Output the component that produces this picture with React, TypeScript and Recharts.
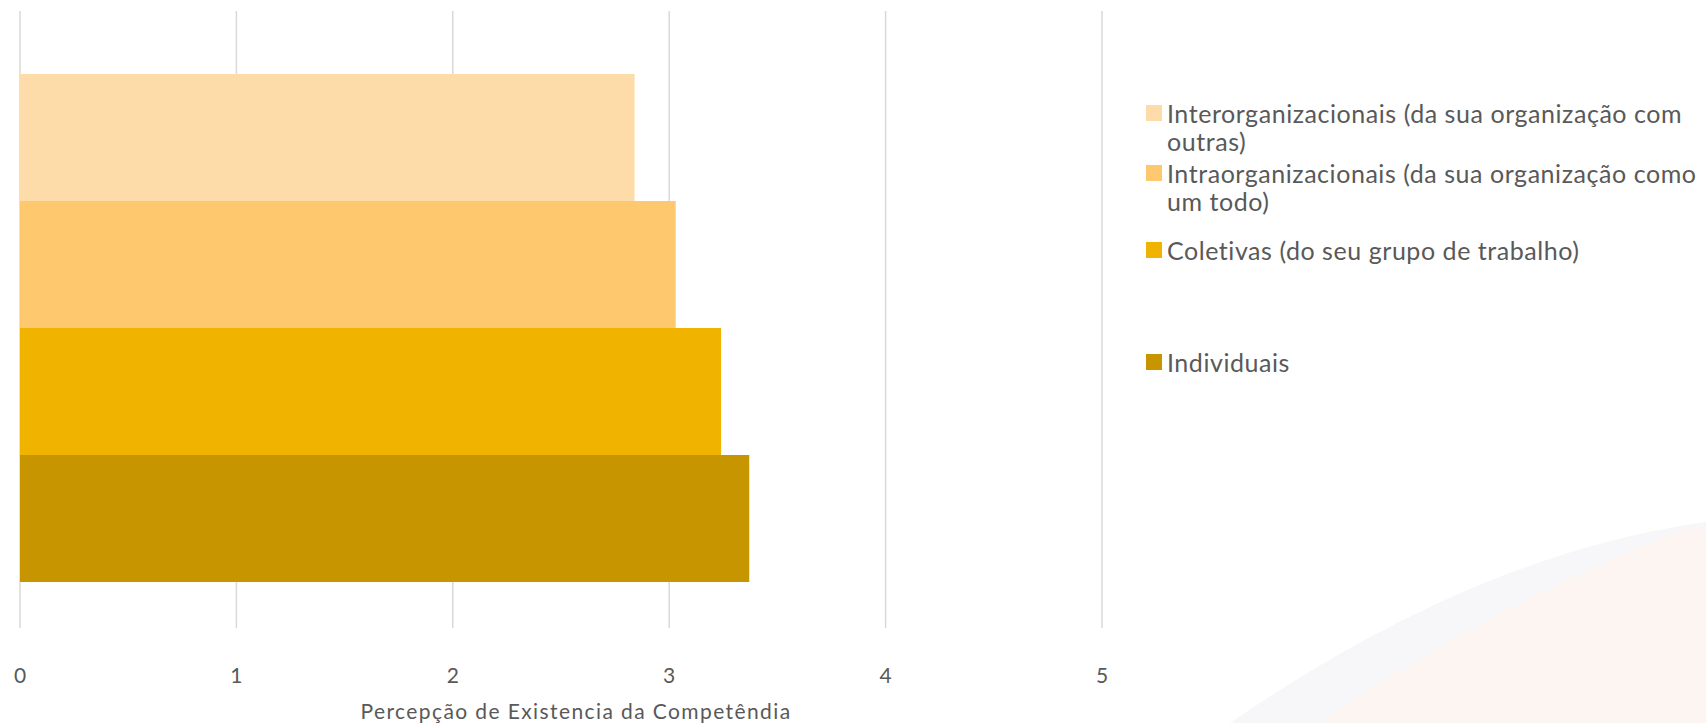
import React from 'react';
import { BarChart, Bar, XAxis, YAxis, CartesianGrid, Legend } from 'recharts';

const categories = ['Competência'];
const seriesKeys = ['inter', 'intra', 'colet', 'indiv'];
const seriesNames = [
  'Interorganizacionais (da sua organização com outras)',
  'Intraorganizacionais (da sua organização como um todo)',
  'Coletivas (do seu grupo de trabalho)',
  'Individuais',
];
const legendLines = [
  ['Interorganizacionais (da sua organização com', 'outras)'],
  ['Intraorganizacionais (da sua organização como', 'um todo)'],
  ['Coletivas (do seu grupo de trabalho)'],
  ['Individuais'],
];
const interValues = [2.84];
const intraValues = [3.03];
const coletValues = [3.24];
const indivValues = [3.37];
const xTicks = [0, 1, 2, 3, 4, 5];
const axisTitle = 'Percepção de Existencia da Competêndia';

const colors = ['#FEDCAA', '#FDC86E', '#F0B300', '#C79500'];
const legendCenters = [113, 173, 250, 362];
const FONT = 'Lato, "Open Sans", sans-serif';
const TEXT = '#595959';

const data = categories.map((c, i) => ({
  name: c,
  inter: interValues[i],
  intra: intraValues[i],
  colet: coletValues[i],
  indiv: indivValues[i],
}));

const LegendContent = () => (
  <div style={{ position: 'relative', width: 0, height: 0 }}>
    {seriesKeys.map((k, i) => (
      <div
        key={k}
        style={{
          position: 'absolute',
          left: 1146,
          top: legendCenters[i] - 14,
          width: 560,
          display: 'flex',
          alignItems: 'flex-start',
          fontFamily: FONT,
          fontSize: 25,
          lineHeight: '28px',
          color: TEXT,
          letterSpacing: 0.55,
          whiteSpace: 'nowrap',
        }}
      >
        <span
          style={{
            display: 'inline-block',
            width: 16,
            height: 16,
            marginTop: 6,
            marginRight: 5,
            background: colors[i],
            flex: '0 0 auto',
          }}
        />
        <span>
          {legendLines[i].map((l, j) => (
            <div key={j}>{l}</div>
          ))}
        </span>
      </div>
    ))}
  </div>
);

export default function App() {
  return (
    <div style={{ position: 'relative', width: 1706, height: 723, background: '#ffffff', overflow: 'hidden' }}>
      <style>{'body{margin:0;background:#fff;}'}</style>
      <svg width={1706} height={723} style={{ position: 'absolute', left: 0, top: 0 }}>
        <path d="M1230,723 C1380,620 1540,545 1706,522 L1706,723 Z" fill="#f7f6f9" />
        <path d="M1320,723 C1440,640 1575,570 1690,528 L1706,530 L1706,723 Z" fill="#fdf5f2" />
      </svg>
      <div style={{ position: 'absolute', left: 0, top: 0 }}>
        <BarChart
          width={1706}
          height={723}
          data={data}
          layout="vertical"
          margin={{ top: 11, right: 604, left: 20, bottom: 0 }}
          barCategoryGap={0}
          barGap={0}
        >
          <CartesianGrid horizontal={false} stroke="#d9d9d9" strokeWidth={1.5} />
          <XAxis
            type="number"
            domain={[0, 5]}
            ticks={xTicks}
            height={95}
            axisLine={false}
            tickLine={false}
            tickMargin={34}
            tick={{ fill: TEXT, fontSize: 21, fontFamily: FONT }}
            label={{
              value: axisTitle,
              position: 'insideBottom',
              offset: 4,
              dx: 15,
              fill: TEXT,
              fontSize: 21,
              fontFamily: FONT,
              letterSpacing: 1.4,
            }}
          />
          <YAxis type="category" dataKey="name" hide padding={{ top: 63, bottom: 48 }} />
          <Legend content={<LegendContent />} wrapperStyle={{ left: 0, top: 0, width: 0, height: 0 }} />
          {seriesKeys.map((k, i) => (
            <Bar key={k} dataKey={k} name={seriesNames[i]} fill={colors[i]} isAnimationActive={false} />
          ))}
        </BarChart>
      </div>
    </div>
  );
}
